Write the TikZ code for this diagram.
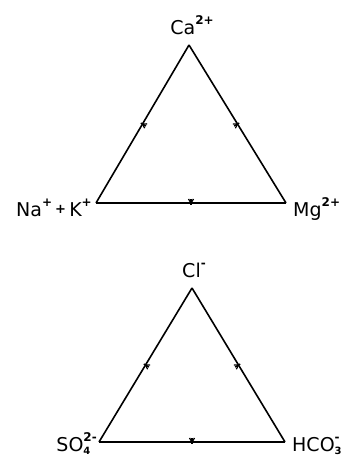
\documentclass[tikz,border=0pt]{standalone}
\usepackage{fontspec}
\setmainfont{DejaVu Sans}
\usetikzlibrary{decorations.markings}
\newcommand{\ionsup}[1]{\raisebox{0.95ex}{\fontsize{12}{12}\selectfont\bfseries #1}}
\newcommand{\ionsub}[1]{\raisebox{-0.3ex}{\fontsize{10}{10}\selectfont\bfseries #1}}
\newcommand{\ionsubsup}[2]{\makebox[0pt][l]{\ionsub{#1}}\ionsup{#2}}
\begin{document}
\begin{tikzpicture}[x=1pt,y=-1pt,
  side/.style={line width=1.6pt,
    postaction={decorate},
    decoration={markings, mark=at position 0.5 with {\draw[line width=1.3pt] (-2.5pt,-4pt)--(0,0)--(2.5pt,-4pt); \draw[line width=1.3pt] (0,-4pt)--(0,2pt);}}},
  ion/.style={inner sep=0pt, font=\fontsize{19}{19}\selectfont}]
\useasboundingbox (0,0) rectangle (349,458);
% upper triangle
\coordinate (ca) at (189,45);
\coordinate (na) at (96,203);
\coordinate (mg) at (286,203);
\draw[side] (na) -- (ca);
\draw[side] (ca) -- (mg);
\draw[side] (mg) -- (na);
\node[ion, anchor=base] (lca) at (192,34) {Ca\ionsup{2+}};
\node[ion, anchor=base east] (lna) at (92,216) {Na\ionsup{+}\,\raisebox{0.25ex}{\bfseries\fontsize{13}{13}\selectfont+}\,K\ionsup{+}};
\node[ion, anchor=base west] (lmg) at (293,216) {Mg\ionsup{2+}};
% lower triangle
\coordinate (cl) at (192,288);
\coordinate (so) at (99,442);
\coordinate (hc) at (285,442);
\draw[side] (so) -- (cl);
\draw[side] (cl) -- (hc);
\draw[side] (hc) -- (so);
\node[ion, anchor=base] (lcl) at (194,277) {Cl\ionsup{-}};
\node[ion, anchor=base east] (lso) at (97,451) {SO\ionsubsup{4}{2-}\hspace{2pt}};
\node[ion, anchor=base west] (lhc) at (292,451) {HCO\ionsubsup{3}{-}};
\end{tikzpicture}
\end{document}
